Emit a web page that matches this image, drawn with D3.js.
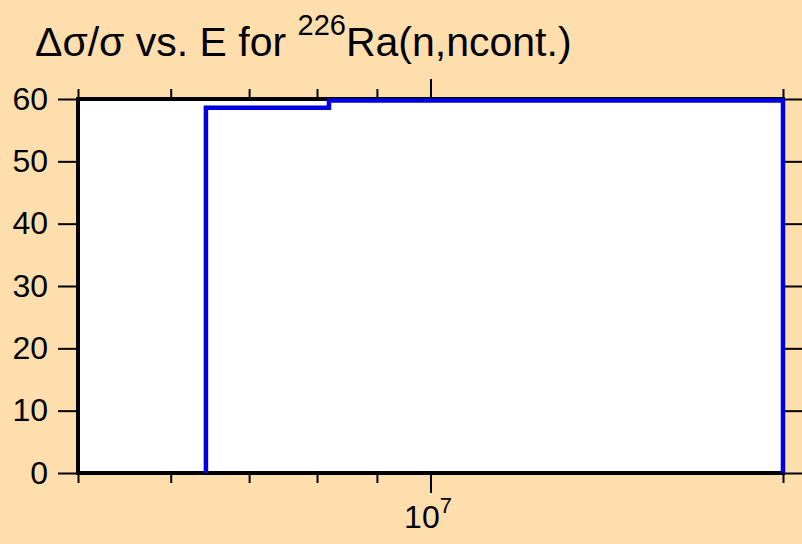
<!DOCTYPE html>
<html>
<head>
<meta charset="utf-8">
<script src="https://cdn.jsdelivr.net/npm/d3@7"></script>
<style>
  body { margin: 0; background: #FFDEAD; }
  svg { display: block; }
</style>
</head>
<body>
<script>
// chart data: energy bin edges (eV) and relative uncertainty (%) in each bin
var binEdges = [6.43e6, 8.19e6, 2e7];
var relUnc = [58.6, 59.75];

// axis ticks
var xDomain = [5e6, 2e7];
var xMinorTicks = [5e6, 6e6, 7e6, 8e6, 9e6, 2e7];
var xMajorTicks = [1e7];
var yTicks = [0, 10, 20, 30, 40, 50, 60];

var width = 802,
    height = 544;

var margin = {left: 78, right: 19, top: 99, bottom: 71};

var svg = d3.select('body')
  .append('svg')
  .attr('width', width)
  .attr('height', height);

svg.append('rect')
  .attr('width', width)
  .attr('height', height)
  .attr('fill', '#FFDEAD');

var x = d3.scaleLog()
  .domain(xDomain)
  .range([margin.left, width - margin.right]);

var y = d3.scaleLinear()
  .domain([0, 60])
  .range([height - margin.bottom, margin.top]);

var fontFamily = '"Liberation Sans", Arial, Helvetica, sans-serif';

// plot area
svg.append('rect')
  .attr('x', x.range()[0])
  .attr('y', y.range()[1])
  .attr('width', x.range()[1] - x.range()[0])
  .attr('height', y.range()[0] - y.range()[1])
  .attr('fill', 'white');

// axes
function styleAxis(g) {
  g.select('.domain').remove();
  g.selectAll('.tick line').attr('stroke', '#000').attr('stroke-width', 2);
  g.selectAll('.tick text')
    .attr('fill', '#000')
    .style('font-family', fontFamily)
    .style('font-size', '32px');
}

svg.append('g')
  .attr('transform', 'translate(' + x.range()[0] + ',0)')
  .call(d3.axisLeft(y).tickValues(yTicks).tickSize(20).tickPadding(10).tickFormat(d3.format('d')))
  .call(styleAxis);

svg.append('g')
  .attr('transform', 'translate(' + x.range()[1] + ',0)')
  .call(d3.axisRight(y).tickValues(yTicks).tickSize(20).tickFormat(''))
  .call(styleAxis);

svg.append('g')
  .attr('transform', 'translate(0,' + y.range()[0] + ')')
  .call(d3.axisBottom(x).tickValues(xMinorTicks).tickSize(10).tickFormat(''))
  .call(styleAxis);

svg.append('g')
  .attr('transform', 'translate(0,' + y.range()[1] + ')')
  .call(d3.axisTop(x).tickValues(xMinorTicks).tickSize(10).tickFormat(''))
  .call(styleAxis);

svg.append('g')
  .attr('transform', 'translate(0,' + y.range()[1] + ')')
  .call(d3.axisTop(x).tickValues(xMajorTicks).tickSize(20).tickFormat(''))
  .call(styleAxis);

var xMajor = svg.append('g')
  .attr('transform', 'translate(0,' + y.range()[0] + ')')
  .call(d3.axisBottom(x).tickValues(xMajorTicks).tickSize(20).tickFormat(''))
  .call(styleAxis);

// 10^7 style labels
xMajor.selectAll('.tick').append('text')
  .attr('x', -3)
  .attr('y', 55)
  .attr('text-anchor', 'middle')
  .attr('fill', '#000')
  .style('font-family', fontFamily)
  .style('font-size', '32px')
  .each(function(d) {
    var t = d3.select(this);
    t.append('tspan').text('10');
    t.append('tspan')
      .attr('dy', -15)
      .style('font-size', '22px')
      .text(Math.round(Math.log10(d)));
  });

// the step line
var pts = [[binEdges[0], 0]];
relUnc.forEach(function(v, i) {
  pts.push([binEdges[i], v]);
});
pts.push([binEdges[binEdges.length - 1], 0]);

var line = d3.line()
  .x(function(d) { return x(d[0]); })
  .y(function(d) { return y(d[1]); })
  .curve(d3.curveStepAfter);

// frame
svg.append('rect')
  .attr('x', x.range()[0])
  .attr('y', y.range()[1])
  .attr('width', x.range()[1] - x.range()[0])
  .attr('height', y.range()[0] - y.range()[1])
  .attr('fill', 'none')
  .attr('stroke', '#000')
  .attr('stroke-width', 4);

svg.append('path')
  .datum(pts)
  .attr('d', line)
  .attr('fill', 'none')
  .attr('stroke', '#0000e0')
  .attr('stroke-width', 4.5);

// title
var title = svg.append('text')
  .attr('x', 35)
  .attr('y', 56)
  .attr('fill', '#000')
  .style('font-family', fontFamily)
  .style('font-size', '41px');
title.append('tspan').text('\u0394\u03c3/\u03c3 vs. E for ');
title.append('tspan').attr('dy', -21).style('font-size', '29px').text('226');
title.append('tspan').attr('dy', 21).text('Ra(n,ncont.)');
</script>
</body>
</html>
